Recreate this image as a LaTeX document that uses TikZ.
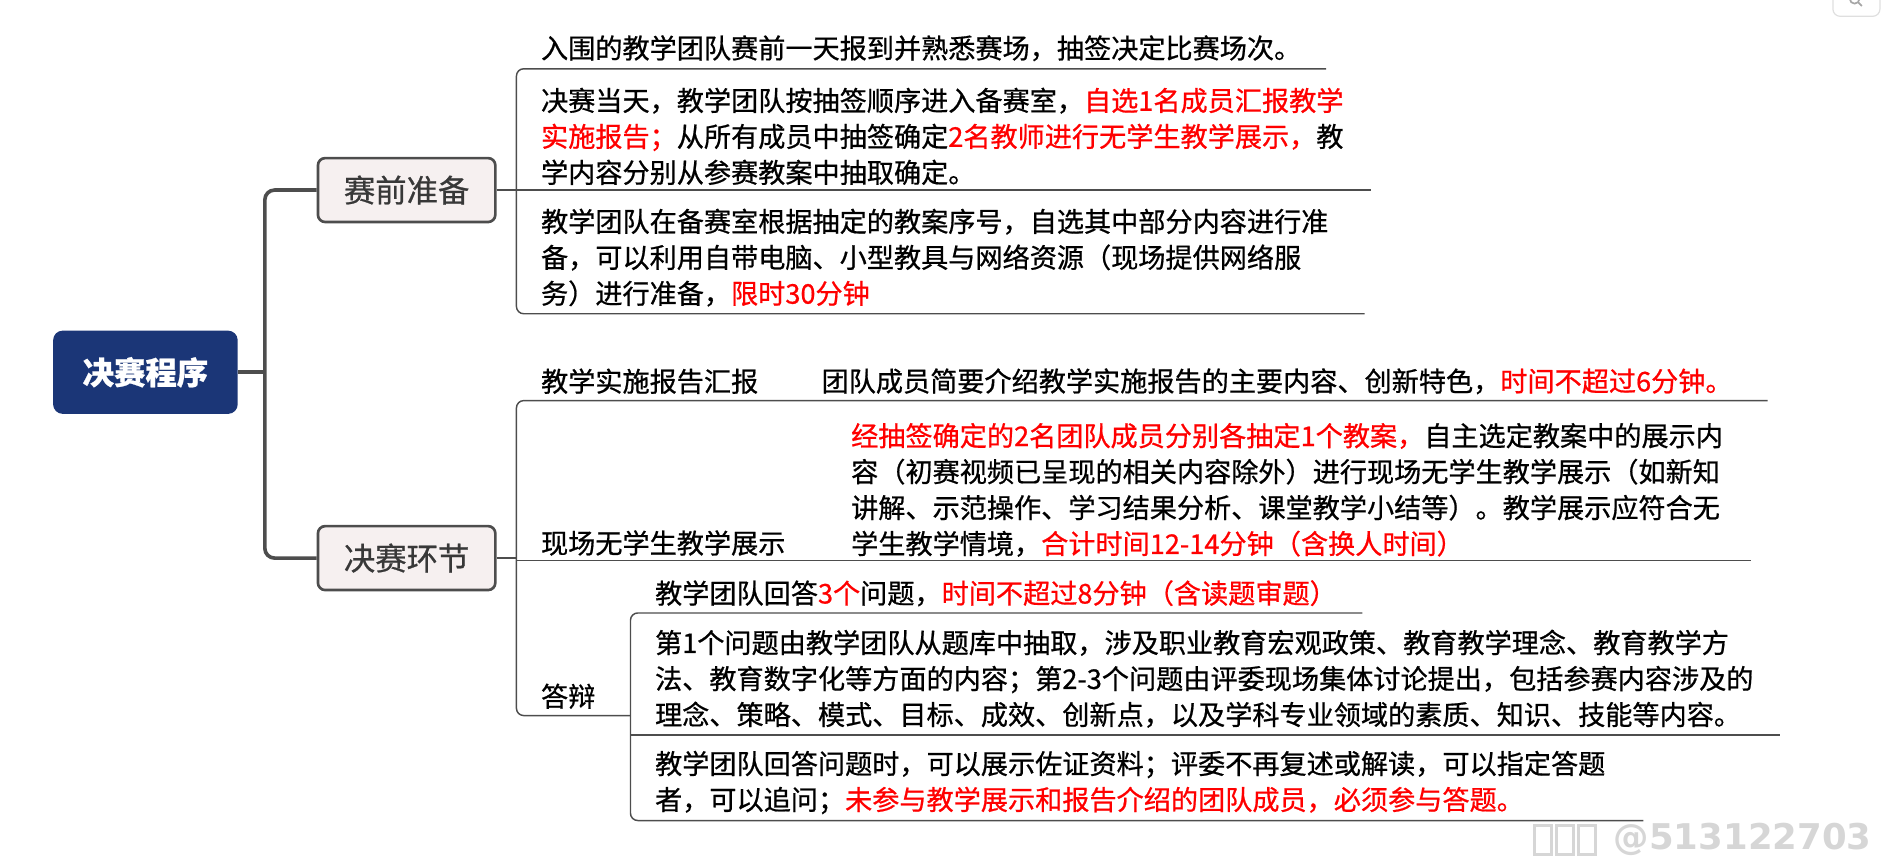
\documentclass[tikz,border=0pt]{standalone}
\usepackage{fontspec}
\setmainfont{Noto Sans CJK SC}[FakeBold=0.7]
\newfontfamily\markfont{DejaVu Sans}
\usetikzlibrary{calc}
\definecolor{rootblue}{HTML}{1B3677}
\definecolor{boxfill}{HTML}{F6F0F0}
\definecolor{linegray}{HTML}{4D4D4D}
\definecolor{markgray}{HTML}{D6D6D6}
\newcommand{\hot}[1]{\textcolor{red}{#1}}
\tikzset{
% Node styles for the mind map: root, branch and leaf text
root node/.style={fill=rootblue,rounded corners=4,minimum width=76.5pt,minimum height=34.5pt,inner sep=0,text=white,font=\fontsize{13pt}{15pt}\selectfont\bfseries},
branch node/.style={draw=linegray,line width=1.1pt,fill=boxfill,rounded corners=3,minimum width=73.5pt,minimum height=26.5pt,inner sep=0,text=black!78,font=\fontsize{13pt}{15pt}\selectfont},
leaf/.style={anchor=west,inner sep=0,align=left,font=\fontsize{11.25pt}{14.9pt}\selectfont},
% Two line styles: thick trunk and thin brackets
trunk/.style={linegray,line width=1.5pt,rounded corners=4},
bracket/.style={linegray,line width=0.6pt,rounded corners=3}
}
\begin{document}
\begin{tikzpicture}[x=0.5pt,y=-0.5pt]
      \useasboundingbox (0,0) rectangle (1568,714);
      % Root and the two branches
      \node[root node] (root) at (120.5,308.5) {决赛程序};
      \node[branch node] (prep) at (337,157.5) {赛前准备};
      \node[branch node] (final) at (337,462.5) {决赛环节};
      % Leaves of the first branch
      \node[leaf] (p1) at (448,40) {入围的教学团队赛前一天报到并熟悉赛场，抽签决定比赛场次。};
      \node[leaf] (p2) at (448,113) {决赛当天，教学团队按抽签顺序进入备赛室，\hot{自选1名成员汇报教学}\\
        \hot{实施报告；}从所有成员中抽签确定\hot{2名教师进行无学生教学展示，}教\\
        学内容分别从参赛教案中抽取确定。};
      \node[leaf] (p3) at (448,213.5) {教学团队在备赛室根据抽定的教案序号，自选其中部分内容进行准\\
        备，可以利用自带电脑、小型教具与网络资源（现场提供网络服\\
        务）进行准备，\hot{限时30分钟}};
      % Leaves of the second branch
      \node[leaf] (f1) at (448,316) {教学实施报告汇报};
      \node[leaf] (f1d) at (680.5,316) {团队成员简要介绍教学实施报告的主要内容、创新特色，\hot{时间不超过6分钟。}};
      \node[leaf] (f2) at (448,450) {现场无学生教学展示};
      \node[leaf] (f2d) at (705,406) {\hot{经抽签确定的2名团队成员分别各抽定1个教案，}自主选定教案中的展示内\\
        容（初赛视频已呈现的相关内容除外）进行现场无学生教学展示（如新知\\
        讲解、示范操作、学习结果分析、课堂教学小结等）。教学展示应符合无\\
        学生教学情境，\hot{合计时间12-14分钟（含换人时间）}};
      \node[leaf] (f3) at (448,577) {答辩};
      \node[leaf] (f3a) at (542.5,491.7) {教学团队回答\hot{3个}问题，\hot{时间不超过8分钟（含读题审题）}};
      \node[leaf] (f3b) at (542.5,562.5) {第1个问题由教学团队从题库中抽取，涉及职业教育宏观政策、教育教学理念、教育教学方\\
        法、教育数字化等方面的内容；第2-3个问题由评委现场集体讨论提出，包括参赛内容涉及的\\
        理念、策略、模式、目标、成效、创新点，以及学科专业领域的素质、知识、技能等内容。};
      \node[leaf] (f3c) at (542.5,648.5) {教学团队回答问题时，可以展示佐证资料；评委不再复述或解读，可以指定答题\\
        者，可以追问；\hot{未参与教学展示和报告介绍的团队成员，必须参与答题。}};
      % Trunk from the root
      \coordinate (tk) at (219.5,308.5);
      \draw[trunk] (root.east) -- (tk);
      \draw[trunk] (prep.west) -| (tk) |- (final.west);
      % Brackets and underlines
      \coordinate (b1) at (428,157.5);
      \coordinate (b1t) at (1099,57);
      \coordinate (b1m) at (1136,157.5);
      \coordinate (b1b) at (1131,260);
      \draw[bracket] (b1t) -| (b1) |- (b1b);
      \draw[bracket] (prep.east) -- (b1m);
      \coordinate (b2) at (428,462.5);
      \coordinate (b2t) at (1465,332);
      \coordinate (b2m) at (1451,464.5);
      \coordinate (b3) at (522.5,593);
      \draw[bracket] (b2t) -| (b2) |- (b3);
      \draw[bracket] (final.east) -- (b2);
      \draw[bracket] (b2 |- b2m) -- (b2m);
      \coordinate (b3t) at (1129,508);
      \coordinate (b3m) at (1475,609);
      \coordinate (b3b) at (1362,680);
      \draw[bracket] (b3t) -| (b3) |- (b3b);
      \draw[bracket] (b3 |- b3m) -- (b3m);
      % Search button at the top right
      \draw[gray!25,line width=0.5pt,rounded corners=3] (1519,-10) rectangle (1558,13.5);
      \draw[gray!70,line width=0.7pt] (1537,-1) circle (4) (1540,2) -- (1543,5);
      % Watermark
      \foreach \x in {1272,1290,1308} \draw[markgray,line width=1.2pt] (\x,684) rectangle ++(14,24);
      \node[anchor=west,inner sep=0,text=markgray,font=\markfont\bfseries\fontsize{14.7pt}{16pt}\selectfont] (mark) at (1337,696) {@513122703};
    \end{tikzpicture}
\end{document}
